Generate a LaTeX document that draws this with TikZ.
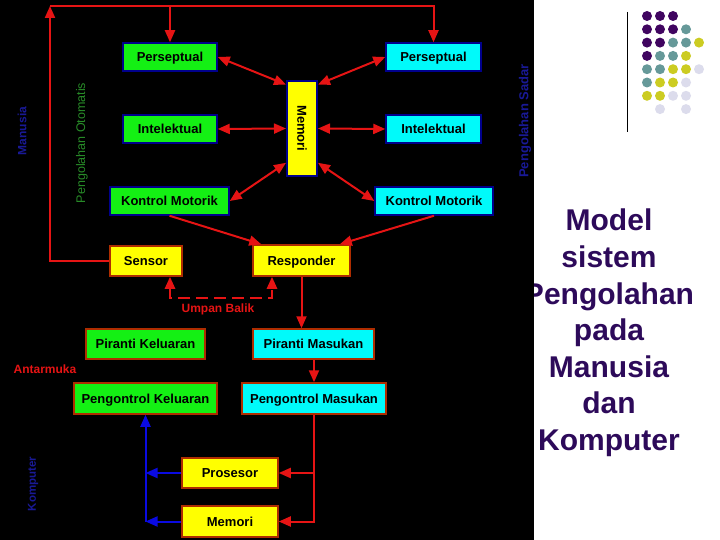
\documentclass[tikz,border=0pt]{standalone}
\usepackage{fontspec}
\setmainfont{Liberation Sans}
\usetikzlibrary{arrows.meta}
\definecolor{hijau}{RGB}{20,240,20}
\definecolor{sian}{RGB}{0,250,250}
\definecolor{kuning}{RGB}{255,255,0}
\definecolor{navyb}{RGB}{0,0,140}
\definecolor{coklat}{RGB}{175,45,0}
\definecolor{merah}{RGB}{230,20,20}
\definecolor{biru}{RGB}{10,10,225}
\definecolor{birutua}{RGB}{25,25,150}
\definecolor{hijautua}{RGB}{40,140,40}
\definecolor{ungu}{RGB}{45,10,90}
\definecolor{titikA}{RGB}{64,5,96}
\definecolor{titikB}{RGB}{102,153,153}
\definecolor{titikC}{RGB}{204,204,34}
\definecolor{titikD}{RGB}{220,220,236}
\begin{document}
\begin{tikzpicture}[x=1bp,y=-1bp,>={Triangle[length=12bp,width=10bp]},
   kotak/.style={draw,line width=1.5bp,inner sep=0pt,minimum height=28bp,
                 text height=9.5bp,text depth=0pt,
                 font=\fontsize{13bp}{15bp}\selectfont\bfseries},
   kiri/.style={kotak,fill=hijau,draw=navyb},
   kanan/.style={kotak,fill=sian,draw=navyb},
   bawah/.style={kotak,draw=coklat,minimum height=30bp},
   panah/.style={draw=merah,line width=2bp},
   panahb/.style={draw=biru,line width=2bp},
   teks/.style={font=\fontsize{12bp}{14bp}\selectfont\bfseries}]
   %background
   \fill[white] (0,0) rectangle (720,540);
   \useasboundingbox (0,0) rectangle (720,540);
   %title
   \node[align=center,text=ungu,font=\fontsize{30bp}{36.6bp}\selectfont\bfseries] (judul) at (609,333)
      {Model\\sistem\\Pengolahan\\pada\\Manusia\\dan\\Komputer};
   \fill[black] (0,0) rectangle (534,540);
   %dots
   \draw[line width=1bp] (627,12) -- (627,132);
   \foreach \c/\r in {0/0,1/0,2/0,0/1,1/1,2/1,0/2,1/2,0/3}
      \fill[titikA] (647+13*\c,16+13.3*\r) circle (5);
   \foreach \c/\r in {3/1,2/2,3/2,1/3,2/3,0/4,1/4,0/5}
      \fill[titikB] (647+13*\c,16+13.3*\r) circle (5);
   \foreach \c/\r in {4/2,3/3,2/4,3/4,1/5,2/5,0/6,1/6}
      \fill[titikC] (647+13*\c,16+13.3*\r) circle (5);
   \foreach \c/\r in {4/4,3/5,2/6,3/6,1/7,3/7}
      \fill[titikD] (647+13*\c,16+13.3*\r) circle (5);
   %manusia
   \node[kiri,minimum width=94bp] (perL) at (170,57) {Perseptual};
   \node[kiri,minimum width=94bp] (intL) at (170,129) {Intelektual};
   \node[kiri,minimum width=119bp] (motL) at (169.5,201) {Kontrol Motorik};
   \node[kanan,minimum width=95bp] (perR) at (433.5,57) {Perseptual};
   \node[kanan,minimum width=95bp] (intR) at (433.5,129) {Intelektual};
   \node[kanan,minimum width=118bp] (motR) at (434,201) {Kontrol Motorik};
   \node[draw=navyb,fill=kuning,line width=2bp,inner sep=0pt,minimum width=30bp,minimum height=95bp,
         font=\fontsize{13bp}{15bp}\selectfont\bfseries] (mem)
      at (302,128.5) {\rotatebox{-90}{Memori}};
   %link
   \node[bawah,fill=kuning,minimum width=72bp] (sensor) at (146,261) {Sensor};
   \node[bawah,fill=kuning,minimum width=97bp,minimum height=31bp] (responder) at (301.5,260.5) {Responder};
   %komputer
   \node[bawah,fill=hijau,minimum width=119bp] (pirK) at (145.5,344) {Piranti Keluaran};
   \node[bawah,fill=hijau,minimum width=143bp,minimum height=31bp] (ctlK) at (145.5,398.5) {Pengontrol Keluaran};
   \node[bawah,fill=sian,minimum width=121bp] (pirM) at (313.5,344) {Piranti Masukan};
   \node[bawah,fill=sian,minimum width=144bp,minimum height=31bp] (ctlM) at (314,398.5) {Pengontrol Masukan};
   \node[bawah,fill=kuning,minimum width=96bp] (cpu) at (230,473) {Prosesor};
   \node[bawah,fill=kuning,minimum width=96bp,minimum height=31bp] (ram) at (230,521.5) {Memori};
   %side labels
   \node[teks,text=birutua,rotate=90] (lmanusia) at (22,131) {Manusia};
   \node[font=\fontsize{12.5bp}{14bp}\selectfont,text=hijautua,rotate=90] (lotomatis) at (82,143) {Pengolahan Otomatis};
   \node[teks,text=birutua,rotate=90,font=\fontsize{13bp}{14bp}\selectfont\bfseries] (lsadar) at (525,121) {Pengolahan Sadar};
   \node[teks,text=merah] (lantar) at (45,369) {Antarmuka};
   \node[teks,text=birutua,rotate=90,font=\fontsize{11.5bp}{14bp}\selectfont\bfseries] (lkomp) at (33,484) {Komputer};
   %top loop
   \coordinate (atasKiri) at (50,6);
   \draw[panah,->] (sensor.west) -| (atasKiri);
   \draw[panah,->] (atasKiri) -| (perR.north);
   \draw[panah,->] (perL.north |- atasKiri) -- (perL.north);
   %memori arrows
   \draw[panah,<->] (perL.east) -- (mem.110);
   \draw[panah,<->] (intL.east) -- (mem.west);
   \draw[panah,<->] (motL.east) -- (mem.245);
   \draw[panah,<->] (perR.west) -- (mem.70);
   \draw[panah,<->] (intR.west) -- (mem.east);
   \draw[panah,<->] (motR.west) -- (mem.295);
   %to responder
   \draw[panah,->] (motL.south) -- (responder.158);
   \draw[panah,->] (motR.south) -- (responder.23);
   %umpan balik
   \coordinate (balikKiri) at (170,298);
   \coordinate (balikKanan) at (272,298);
   \draw[panah,<->,line width=2.5bp,dash pattern=on 12bp off 6bp]
      (balikKiri |- sensor.south) -- (balikKiri) -- (balikKanan) -- (balikKanan |- responder.south);
   \node[teks,text=merah] (umpan) at (218,309) {Umpan Balik};
   %masukan
   \draw[panah,->] (responder.south) -- (responder.south |- pirM.north);
   \draw[panah,->] (pirM.south -| ctlM.north) -- (ctlM.north);
   \draw[panah,->] (ctlM.south) |- (ram.east);
   \draw[panah,->] (ctlM.south |- cpu.east) -- (cpu.east);
   %keluaran
   \draw[panahb,->] (ram.west -| ctlK.south) -- (ctlK.south);
   \draw[panahb,->] (ram.west) -- (ram.west -| ctlK.south);
   \draw[panahb,->] (cpu.west) -- (cpu.west -| ctlK.south);
\end{tikzpicture}
\end{document}
